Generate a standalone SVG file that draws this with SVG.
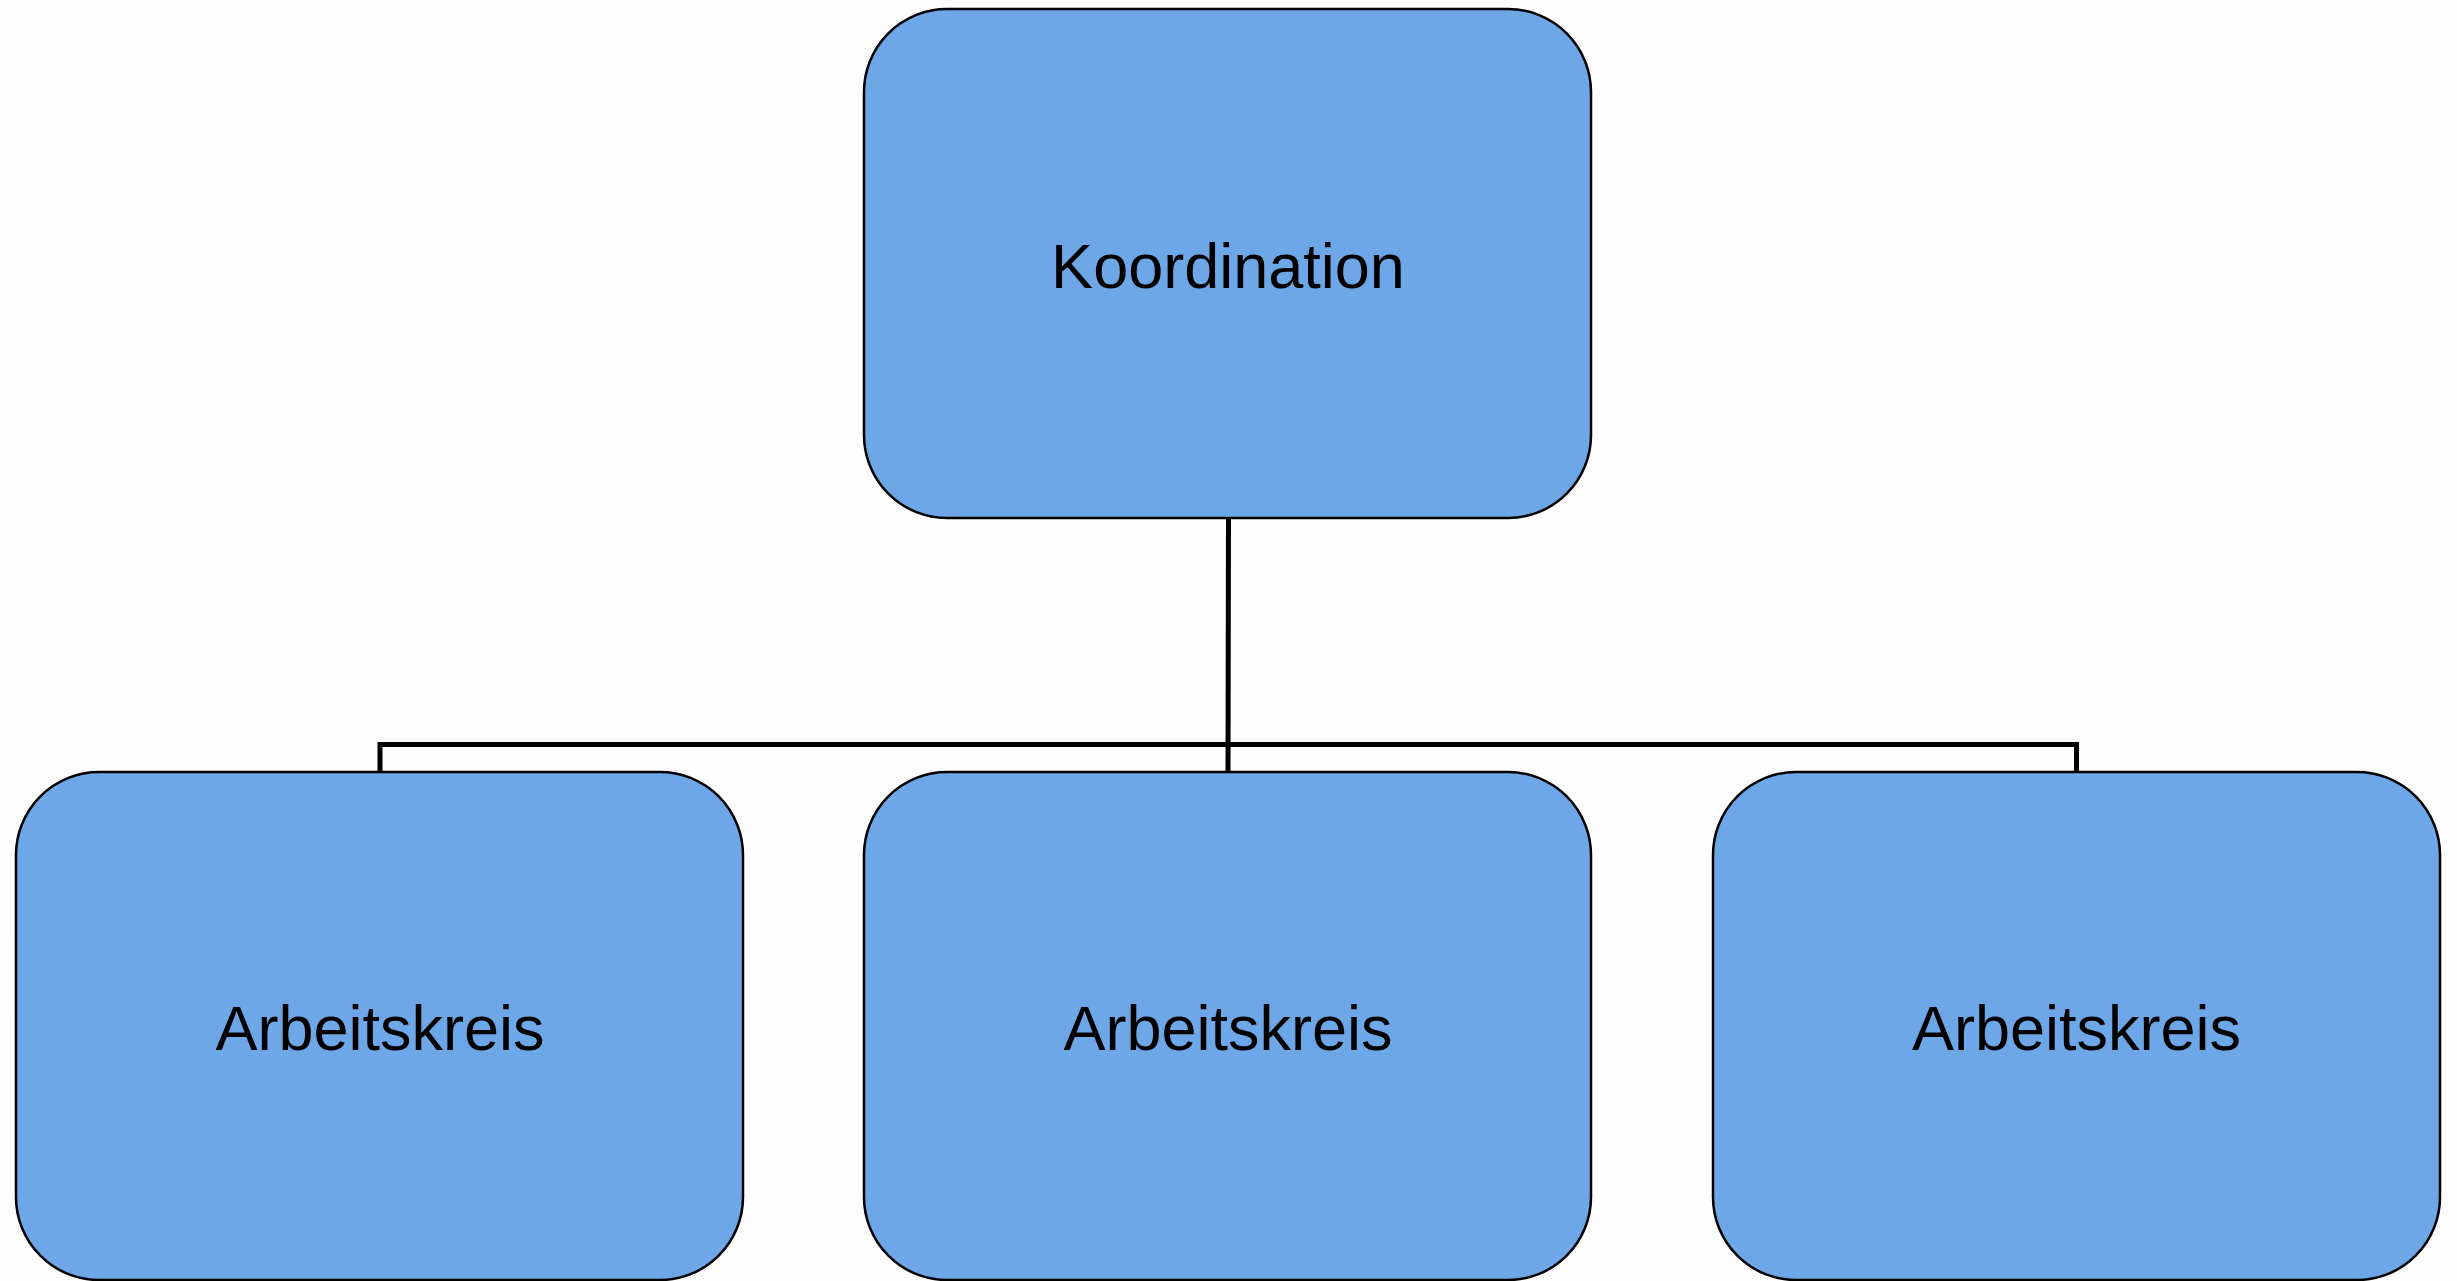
<svg xmlns="http://www.w3.org/2000/svg" width="2457" height="1281" viewBox="0 0 2457 1281">
<style>
.node rect{fill:#6ea7e7;stroke:#000;stroke-width:2.5}
.node text{font-family:"Liberation Sans",Arial,sans-serif;font-size:63px;fill:#000;text-anchor:middle}
.conn{fill:none;stroke:#000;stroke-width:5}
</style>
<rect x="0" y="0" width="2457" height="1281" fill="#fdfdfd"/>
<g id="connectors">
<path class="conn" d="M1228.5,518 L1228,772"/>
<path class="conn" d="M380,772 L380,744.5 L2076.5,744.5 L2076.5,772"/>
</g>
<g id="node-koordination" class="node">
<rect x="864" y="9" width="727" height="509" rx="83" ry="83"/>
<text x="1228" y="288">Koordination</text>
</g>
<g id="node-arbeitskreis-1" class="node">
<rect x="16" y="772" width="727" height="508" rx="83" ry="83"/>
<text x="380" y="1050">Arbeitskreis</text>
</g>
<g id="node-arbeitskreis-2" class="node">
<rect x="864" y="772" width="727" height="508" rx="83" ry="83"/>
<text x="1228" y="1050">Arbeitskreis</text>
</g>
<g id="node-arbeitskreis-3" class="node">
<rect x="1713" y="772" width="727" height="508" rx="83" ry="83"/>
<text x="2076.5" y="1050">Arbeitskreis</text>
</g>
</svg>
